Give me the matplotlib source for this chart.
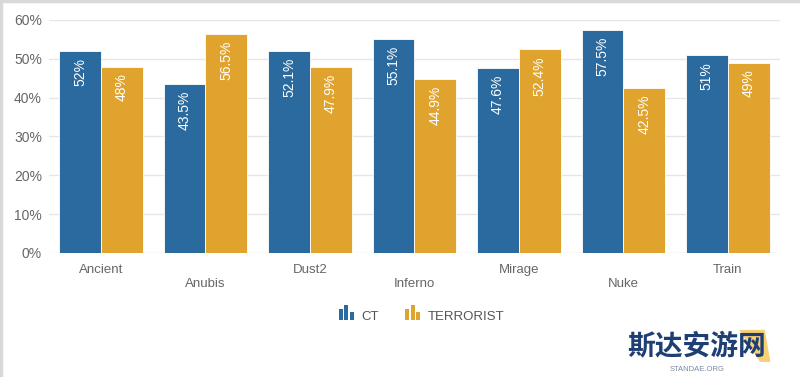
import numpy as np
import matplotlib
matplotlib.use("Agg")
import matplotlib.pyplot as plt
from matplotlib.patches import Rectangle, Polygon
from matplotlib.lines import Line2D
from matplotlib.legend_handler import HandlerBase

plt.rcParams['font.family'] = ['Liberation Sans', 'DejaVu Sans']

# data
maps = ["Ancient", "Anubis", "Dust2", "Inferno", "Mirage", "Nuke", "Train"]
ct = [52, 43.5, 52.1, 55.1, 47.6, 57.5, 51]
terrorist = [48, 56.5, 47.9, 44.9, 52.4, 42.5, 49]
ct_labels = ["52%", "43.5%", "52.1%", "55.1%", "47.6%", "57.5%", "51%"]
t_labels = ["48%", "56.5%", "47.9%", "44.9%", "52.4%", "42.5%", "49%"]

blue = "#2b6a9f"
gold = "#e0a32e"
grey = "#666666"


class BarIcon(HandlerBase):
    # little three-bar icon like the original legend
    def create_artists(self, legend, orig, xd, yd, w, h, fontsize, trans):
        c = orig.patches[0].get_facecolor()
        bw = w / 3.6
        hs = [0.8, 1.1, 0.55]
        arts = []
        for i, hh in enumerate(hs):
            r = Rectangle((xd + i * bw * 1.3, yd - 1), bw, h * hh + 1,
                          facecolor=c, edgecolor="none", transform=trans)
            arts.append(r)
        return arts


fig = plt.figure(figsize=(8, 3.77), dpi=100)
# thin grey frame on the left and top only
fig.lines.append(Line2D([0.001, 0.001], [0, 1], transform=fig.transFigure, color="#d9d9d9", lw=2.5))
fig.lines.append(Line2D([0, 1], [0.997, 0.997], transform=fig.transFigure, color="#d9d9d9", lw=2.5))
ax = fig.add_axes([0.061, 0.329, 0.914, 0.618])

x = np.arange(len(maps))
w = 0.4
b1 = ax.bar(x - w / 2, ct, w, color=blue, edgecolor="white", linewidth=0.6, label="CT", zorder=3)
b2 = ax.bar(x + w / 2, terrorist, w, color=gold, edgecolor="white", linewidth=0.6, label="TERRORIST", zorder=3)

for bars, labs in [(b1, ct_labels), (b2, t_labels)]:
    for r, lab in zip(bars, labs):
        ax.annotate(lab, (r.get_x() + r.get_width() / 2, r.get_height()),
                    xytext=(0, -5), textcoords="offset points",
                    rotation=90, ha="center", va="top",
                    color="white", fontsize=10, zorder=4)

ax.set_xlim(-0.5, 6.5)
ax.set_ylim(0, 60)
ax.set_yticks(range(0, 61, 10))
ax.set_yticklabels([f"{v}%" for v in range(0, 61, 10)])
ax.grid(axis="y", color="#e6e6e6", linewidth=1, zorder=0)
for s in ax.spines.values():
    s.set_visible(False)
ax.tick_params(axis="both", length=0, colors=grey, labelsize=10)
ax.tick_params(axis="y", pad=5)

ax.set_xticks(x)
ax.set_xticklabels(maps, fontsize=9.5)
for i, t in enumerate(ax.get_xticklabels()):
    t.set_y(-0.027 if i % 2 == 0 else -0.087)

leg = ax.legend(handles=[b1, b2], handler_map={type(b1): BarIcon()},
                loc="upper center", bbox_to_anchor=(0.51, -0.19), ncol=2,
                frameon=False, fontsize=9.5, handlelength=1.1, handleheight=1.0,
                handletextpad=0.6, columnspacing=2.0)
for t in leg.get_texts():
    t.set_color("#555555")

# watermark
fig.patches.append(Polygon([[0.924, 0.125], [0.956, 0.125], [0.963, 0.04], [0.95, 0.04]],
                           closed=True, transform=fig.transFigure,
                           facecolor="#f8cf72", edgecolor="none", zorder=0))
fig.text(0.871, 0.08, "斯达安游网", fontsize=20, color="#1d3f73",
         family=["Noto Sans CJK SC"], fontweight="bold", ha="center", va="center")
fig.text(0.871, 0.021, "STANDAE.ORG", fontsize=5.5, color="#7a8aa0",
         ha="center", va="center")

fig.savefig("out.png", dpi=100)
